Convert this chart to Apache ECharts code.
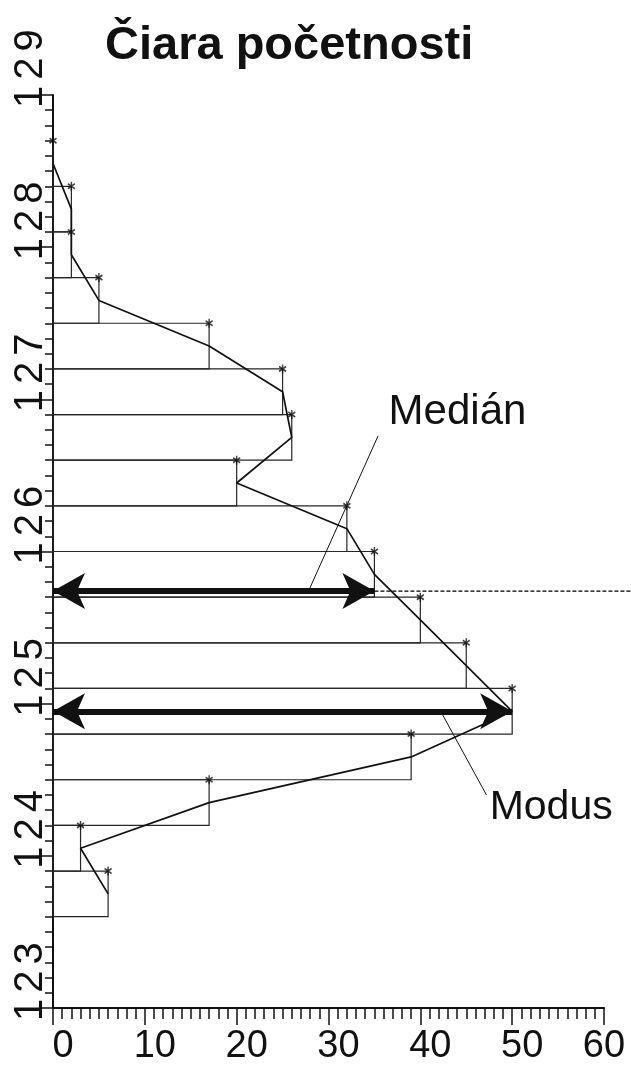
<!DOCTYPE html>
<html><head><meta charset="utf-8">
<script src="https://cdn.jsdelivr.net/npm/echarts@6/dist/echarts.min.js"></script>
<style>html,body{margin:0;padding:0;background:#fff}#c{width:631px;height:1066px}</style>
</head><body><div id="c"></div>
<script>
// ---------- data ----------
const TITLE = 'Čiara početnosti';
const BIN_START = [128.4, 128.1, 127.8, 127.5, 127.2, 126.9, 126.6, 126.3, 126.0, 125.7, 125.4, 125.1, 124.8, 124.5, 124.2, 123.9, 123.6];
const BIN_END   = [128.7, 128.4, 128.1, 127.8, 127.5, 127.2, 126.9, 126.6, 126.3, 126.0, 125.7, 125.4, 125.1, 124.8, 124.5, 124.2, 123.9];
const COUNTS    = [0, 2, 2, 5, 17, 25, 26, 20, 32, 35, 40, 45, 50, 39, 17, 3, 6];
const Y_RANGE = [123, 129];
const X_RANGE = [0, 60];
const MEDIAN_LEVEL = 125.74, MEDIAN_COUNT = 35;
const MODUS_LEVEL = 124.95, MODUS_COUNT = 50;
const MEDIAN_TEXT = 'Medián', MODUS_TEXT = 'Modus';
const MEDIAN_TEXT_POS = [36.6, 126.91];
const MODUS_TEXT_POS = [47.6, 124.31];
const MEDIAN_LEADER = [[35.4, 126.76], [27.9, 125.75]];
const MODUS_LEADER = [[42.4, 124.93], [47.2, 124.40]];

// ---------- chart ----------
const FONT = "'Liberation Sans', Arial, Helvetica, sans-serif";
const INK = '#111';
const chart = echarts.init(document.getElementById('c'), null, {renderer: 'canvas'});

const rectData = COUNTS.map((c, i) => [c, BIN_START[i], BIN_END[i]]);
const polyData = COUNTS.map((c, i) => [c, (BIN_START[i] + BIN_END[i]) / 2]);
const starData = COUNTS.map((c, i) => [c, BIN_END[i]]);

const arrowEnd = {symbol: 'arrow', symbolSize: [27, 32]};
const thick = {color: INK, width: 6, type: 'solid'};
const thin = {color: INK, width: 1, type: 'solid'};

const option = {
  backgroundColor: '#fff',
  animation: false,
  title: {
    text: TITLE, left: 100, top: 18,
    textStyle: {fontSize: 47, fontWeight: 'bold', color: INK, fontFamily: FONT}
  },
  grid: {left: 53, right: 27, top: 95, bottom: 56, containLabel: false},
  xAxis: {
    type: 'value', min: X_RANGE[0], max: X_RANGE[1], interval: 10,
    axisLine: {show: true, onZero: false, lineStyle: {color: INK, width: 2}},
    axisTick: {show: true, length: 17, lineStyle: {color: INK, width: 1.5}},
    minorTick: {show: true, splitNumber: 10, length: 11, lineStyle: {color: INK, width: 1.5}},
    splitLine: {show: false}, minorSplitLine: {show: false},
    axisLabel: {
      margin: 20, showMinLabel: true, showMaxLabel: true, interval: 0,
      formatter: v => (v === X_RANGE[1] ? '{e|' : '{n|') + v + '}',
      rich: {
        n: {fontSize: 38, color: INK, fontFamily: FONT, padding: [0, 0, 0, 20]},
        e: {fontSize: 38, color: INK, fontFamily: FONT}
      }
    }
  },
  yAxis: {
    type: 'value', min: Y_RANGE[0], max: Y_RANGE[1], interval: 1,
    axisLine: {show: true, onZero: false, lineStyle: {color: INK, width: 2}},
    axisTick: {show: true, length: 13, lineStyle: {color: INK, width: 1.5}},
    minorTick: {show: true, splitNumber: 10, length: 8, lineStyle: {color: INK, width: 1.5}},
    splitLine: {show: false}, minorSplitLine: {show: false},
    axisLabel: {
      rotate: 90, align: 'left', verticalAlign: 'bottom', margin: 2,
      padding: [0, 0, 0, -16], interval: 0, showMinLabel: true, showMaxLabel: true,
      formatter: v => String(v).split('').map(ch => '{d|' + ch + '}').join(''),
      rich: {d: {fontSize: 40, fontFamily: FONT, color: INK, padding: [0, 3, 0, 3]}}
    }
  },
  series: [
    {
      type: 'custom', silent: true, z: 2,
      encode: {x: 0, y: [1, 2]},
      data: rectData,
      renderItem: (params, api) => {
        const p0 = api.coord([0, api.value(2)]);
        const p1 = api.coord([api.value(0), api.value(1)]);
        return {
          type: 'rect',
          shape: {x: p0[0], y: p0[1], width: p1[0] - p0[0], height: p1[1] - p0[1]},
          style: {fill: 'none', stroke: '#262626', lineWidth: 1.2}
        };
      }
    },
    {
      type: 'line', silent: true, z: 3, clip: false,
      data: polyData, symbol: 'none', color: INK,
      lineStyle: {color: INK, width: 1.7},
      markLine: {
        silent: true, animation: false, symbol: ['none', 'none'],
        label: {show: false}, emphasis: {disabled: true},
        itemStyle: {color: INK},
        data: [
          [Object.assign({coord: [0, MEDIAN_LEVEL], lineStyle: thick}, arrowEnd),
           Object.assign({coord: [MEDIAN_COUNT, MEDIAN_LEVEL], lineStyle: thick}, arrowEnd)],
          [Object.assign({coord: [0, MODUS_LEVEL], lineStyle: thick}, arrowEnd),
           Object.assign({coord: [MODUS_COUNT, MODUS_LEVEL], lineStyle: thick}, arrowEnd)],
          [{coord: MEDIAN_LEADER[0], lineStyle: thin}, {coord: MEDIAN_LEADER[1]}],
          [{coord: MODUS_LEADER[0], lineStyle: thin}, {coord: MODUS_LEADER[1]}]
        ]
      },
      markPoint: {
        silent: true, animation: false, symbol: 'circle', symbolSize: 1,
        itemStyle: {color: 'rgba(0,0,0,0)'},
        label: {show: true, position: [0, 0], align: 'left', verticalAlign: 'middle',
                fontSize: 42, color: INK, fontFamily: FONT},
        data: [
          {coord: MEDIAN_TEXT_POS, label: {formatter: MEDIAN_TEXT}},
          {coord: MODUS_TEXT_POS, label: {formatter: MODUS_TEXT, fontSize: 41}}
        ]
      }
    },
    {
      // dashed median guide: from the arrow tip to the right edge of the picture
      type: 'custom', silent: true, z: 3, clip: false,
      encode: {x: 0, y: 1},
      data: [[MEDIAN_COUNT, MEDIAN_LEVEL]],
      renderItem: (params, api) => {
        const p = api.coord([api.value(0), api.value(1)]);
        return {
          type: 'line',
          shape: {x1: p[0], y1: p[1], x2: api.getWidth(), y2: p[1]},
          style: {stroke: '#000', lineWidth: 1.2, lineDash: [4, 2]}
        };
      }
    },
    {
      type: 'scatter', silent: true, z: 4, clip: false,
      data: starData,
      symbol: 'path://M3,0L3,8M0,1.8L6,6.2M0,6.2L6,1.8',
      symbolSize: [7, 9],
      itemStyle: {color: 'rgba(0,0,0,0)', borderColor: INK, borderWidth: 1.6}
    }
  ]
};
chart.setOption(option);
</script>
</body></html>
